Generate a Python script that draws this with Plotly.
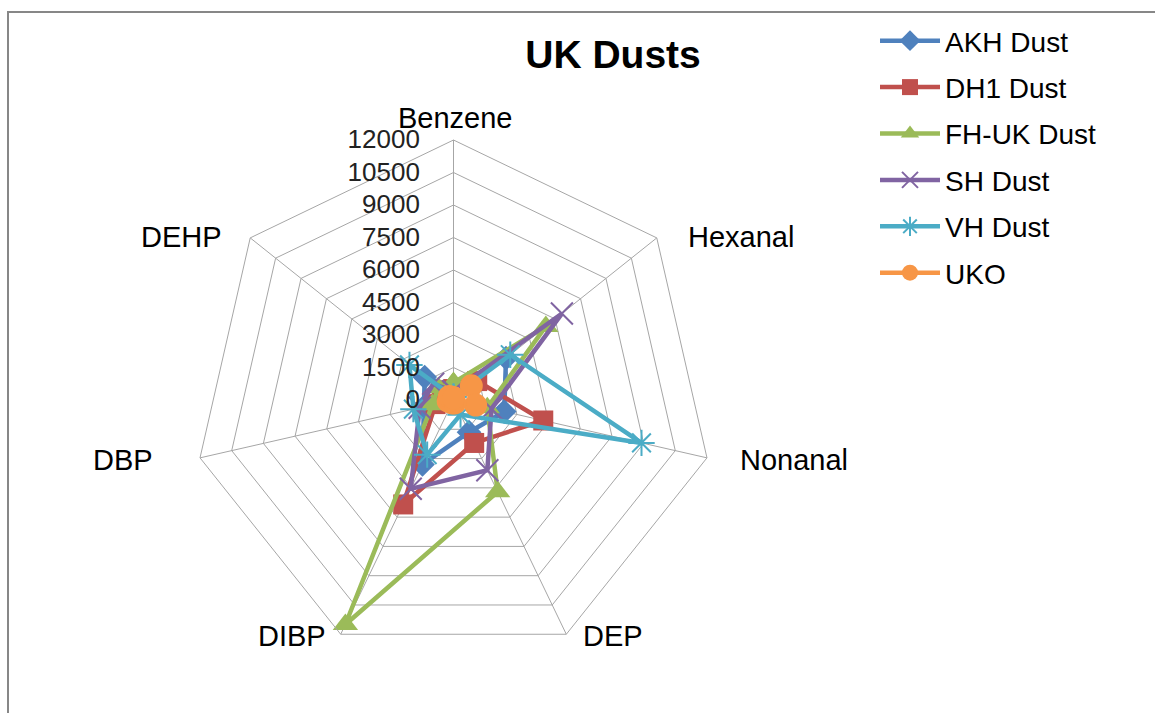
import plotly.graph_objects as go

# Compounds measured in each dust sample (spokes of the radar chart)
categories = ["Benzene", "Hexanal", "Nonanal", "DEP", "DIBP", "DBP", "DEHP"]

akh_dust = [600, 3100, 2400, 1650, 3300, 1400, 1700]
dh1_dust = [500, 1400, 4250, 2200, 5350, 850, 700]
fh_uk_dust = [800, 5450, 1600, 4700, 11500, 1000, 900]
sh_dust = [400, 6400, 1800, 3600, 4550, 1600, 1200]
vh_dust = [150, 3350, 8900, 750, 2800, 1900, 2600]
uko = [100, 1050, 1050, 150, 150, 250, 250]

radial_ticks = [0, 1500, 3000, 4500, 6000, 7500, 9000, 10500, 12000]

series = [
    ("AKH Dust", akh_dust, "#4F81BD", dict(symbol="diamond", size=19)),
    ("DH1 Dust", dh1_dust, "#C0504D", dict(symbol="square", size=20)),
    ("FH-UK Dust", fh_uk_dust, "#9BBB59", dict(symbol="triangle-up", size=22)),
    ("SH Dust", sh_dust, "#8064A2", dict(symbol="x-thin", size=22)),
    ("VH Dust", vh_dust, "#4BACC6", dict(symbol="asterisk", size=22)),
    ("UKO", uko, "#F79646", dict(symbol="circle", size=23)),
]

W, H = 1155, 713
cx, cy, R = 453.5, 400, 260  # chart centre and outer radius in pixels

fig = go.Figure()
for name, vals, color, mk in series:
    thin = mk["symbol"] in ("x-thin", "asterisk")
    fig.add_trace(go.Scatterpolar(
        r=vals + vals[:1],
        theta=categories + categories[:1],
        mode="lines+markers",
        name=name,
        legendgroup=name,
        line=dict(color=color, width=4.5),
        marker=dict(
            symbol=mk["symbol"], size=mk["size"], color=color,
            line=dict(color=color, width=2 if thin else 0),
        ),
    ))

# Category labels sit just outside each spoke's outer vertex
label_pos = {
    "Benzene": (455, 118, "center"),
    "Hexanal": (686, 237, "left"),
    "Nonanal": (738, 460, "left"),
    "DEP": (581, 636, "left"),
    "DIBP": (328, 636, "right"),
    "DBP": (155, 460, "right"),
    "DEHP": (224, 237, "right"),
}
annotations = []
for cat in categories:
    x, y, anchor = label_pos[cat]
    annotations.append(dict(
        text=cat, x=x / W, y=1 - y / H, xref="paper", yref="paper",
        xanchor=anchor, yanchor="middle", showarrow=False,
        font=dict(size=29, color="black"),
    ))

grid = "#A6A6A6"
fig.update_layout(
    width=W, height=H,
    margin=dict(l=0, r=0, t=0, b=0),
    paper_bgcolor="white",
    font=dict(family="Liberation Sans, Arial, sans-serif", color="black"),
    title=dict(
        text="<b>UK Dusts</b>", x=613 / W, y=1 - 54 / H,
        xanchor="center", yanchor="middle",
        font=dict(size=39, color="black"),
    ),
    polar=dict(
        domain=dict(x=[(cx - R) / W, (cx + R) / W],
                    y=[(H - cy - R) / H, (H - cy + R) / H]),
        gridshape="linear",
        bgcolor="white",
        radialaxis=dict(
            range=[0, 12000], tickvals=radial_ticks, tickformat="d",
            angle=90, tickangle=90, side="counterclockwise",
            showline=False, gridcolor=grid, gridwidth=1,
            ticks="outside", ticklen=24, tickcolor="rgba(0,0,0,0)",
            tickfont=dict(size=26, color="#222"),
        ),
        angularaxis=dict(
            rotation=90, direction="clockwise",
            linecolor=grid, linewidth=1, showline=True,
            gridcolor=grid, gridwidth=1, ticks="",
            showticklabels=False,
        ),
    ),
    legend=dict(
        x=875 / W, y=1 - 16 / H, xanchor="left", yanchor="top",
        font=dict(size=28, color="black"),
        tracegroupgap=7, itemwidth=60, bgcolor="rgba(0,0,0,0)",
    ),
    annotations=annotations,
    shapes=[dict(
        type="rect", xref="paper", yref="paper",
        x0=8 / W, x1=1.02, y0=-0.02, y1=1 - 12 / H,
        line=dict(color="#878787", width=2),
    )],
)

fig.write_html("out.html")
